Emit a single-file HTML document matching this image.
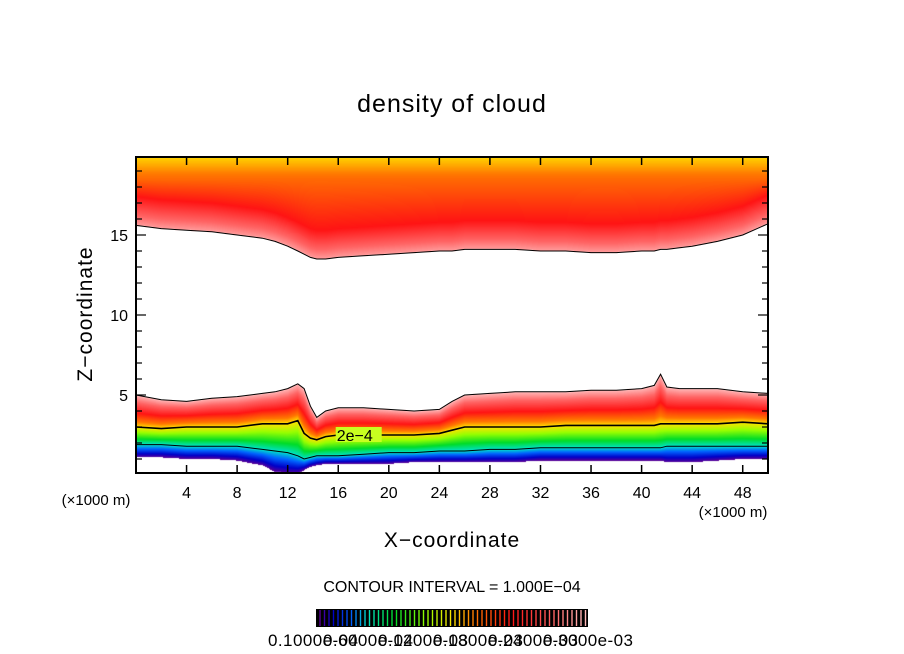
<!DOCTYPE html>
<html><head><meta charset="utf-8"><style>
body{margin:0;background:#fff;width:904px;height:654px;overflow:hidden;position:relative;font-family:"Liberation Sans",sans-serif}
canvas{position:absolute;left:136px;top:157px}
svg{position:absolute;left:0;top:0}
</style></head><body>
<canvas id="cv" width="632" height="316"></canvas>
<svg id="sv" width="904" height="654"></svg>
<script>
// data
const xs   = [0,2,4,6,8,10,11,12,12.8,13.3,13.8,14.3,15,16,18,20,22,24,25,26,28,30,32,34,36,38,40,41,41.5,42,43,44,46,48,50];
const zUp  = [15.6,15.4,15.3,15.2,15.0,14.8,14.6,14.3,14.0,13.8,13.6,13.5,13.5,13.6,13.7,13.8,13.9,14.0,14.0,14.1,14.1,14.1,14.0,14.0,13.9,13.9,14.0,14.0,14.1,14.1,14.2,14.3,14.6,15.0,15.7];
const zTop = [5.0,4.7,4.6,4.8,4.9,5.1,5.2,5.4,5.7,5.4,4.3,3.6,4.0,4.2,4.2,4.1,4.0,4.1,4.6,5.0,5.1,5.2,5.2,5.2,5.3,5.3,5.4,5.6,6.3,5.5,5.4,5.4,5.4,5.2,5.1];
const z2   = [3.0,2.9,3.0,3.0,3.0,3.2,3.2,3.2,3.4,2.6,2.3,2.2,2.4,2.5,2.5,2.5,2.5,2.6,2.8,3.0,3.0,3.0,3.0,3.1,3.1,3.1,3.1,3.1,3.2,3.2,3.2,3.2,3.2,3.3,3.2];
const z1   = [1.9,1.9,1.8,1.8,1.8,1.6,1.5,1.4,1.2,1.0,1.1,1.2,1.2,1.2,1.3,1.4,1.4,1.5,1.5,1.5,1.6,1.6,1.7,1.7,1.7,1.7,1.7,1.7,1.7,1.8,1.8,1.8,1.8,1.8,1.8];
const zBot = [1.1,1.1,1.0,1.0,0.9,0.6,0.2,0.1,0.1,0.3,0.5,0.6,0.7,0.7,0.7,0.7,0.8,0.8,0.8,0.8,0.8,0.8,0.9,0.9,0.9,0.9,0.9,0.9,0.9,0.8,0.8,0.8,0.9,1.0,1.0];
const xTicks = [4,8,12,16,20,24,28,32,36,40,44,48];
const zTicks = [5,10,15];
const cbLabels = ["0.1000e-04","0.6000e-04","0.1200e-03","0.1800e-03","0.2400e-03","0.3000e-03"];

const L=136,R=768,T=157,B=473;
const X=x=>L+(x/50)*(R-L);
const Z=z=>475-z*16;
function interp(arr,x){for(let i=0;i<xs.length-1;i++){if(x<=xs[i+1]){const t=(x-xs[i])/(xs[i+1]-xs[i]);return arr[i]+t*(arr[i+1]-arr[i]);}}return arr[arr.length-1];}
const stops=[[0,[255,185,185]],[0.12,[255,100,100]],[0.28,[255,20,20]],[0.42,[255,120,0]],[0.5,[255,225,0]],[0.6,[150,255,0]],[0.72,[0,220,40]],[0.82,[0,225,200]],[0.88,[0,100,255]],[0.95,[0,0,200]],[1,[90,0,150]]];
function cmap(s){s=Math.max(0,Math.min(1,s));for(let i=0;i<stops.length-1;i++){if(s<=stops[i+1][0]){const t=(s-stops[i][0])/(stops[i+1][0]-stops[i][0]);return stops[i][1].map((c,k)=>Math.round(c+t*(stops[i+1][1][k]-c)));}}return stops[stops.length-1][1];}

const cv=document.getElementById('cv'),ctx=cv.getContext('2d');
const img=ctx.createImageData(632,316);
for(let px=0;px<632;px++){
  const x=(px+0.5)/632*50;
  const a=interp(zUp,x),t=interp(zTop,x),c2=interp(z2,x),c1=interp(z1,x),b=interp(zBot,x);
  for(let py=0;py<316;py++){
    const z=(475-(T+py+0.5))/16;
    let col=null;
    if(z>=a){let s;const d=z-a;if(d<1.8)s=0.04+d/1.8*0.24;else if(z<18.5)s=0.28+(z-a-1.8)/Math.max(0.5,18.5-a-1.8)*0.12;else s=0.40+(z-18.5)/1.5*0.1;col=cmap(s);}
    else if(z<=t&&z>=b){let s;if(z>=c2)s=(t-z)/(t-c2)*0.5;else if(z>=c1)s=0.5+(c2-z)/(c2-c1)*0.32;else s=0.82+(c1-z)/(c1-b)*0.18;col=cmap(s);}
    const i=(py*632+px)*4;
    if(col){img.data[i]=col[0];img.data[i+1]=col[1];img.data[i+2]=col[2];}else{img.data[i]=img.data[i+1]=img.data[i+2]=255;}
    img.data[i+3]=255;
  }
}
ctx.putImageData(img,0,0);

const NS="http://www.w3.org/2000/svg",sv=document.getElementById('sv');
function mk(tag,attrs,parent){const e=document.createElementNS(NS,tag);for(const k in attrs)e.setAttribute(k,attrs[k]);(parent||sv).appendChild(e);return e;}
function line(arr,name,w){const p=mk('polyline',{points:xs.map((x,i)=>X(x)+','+Z(arr[i])).join(' '),fill:'none',stroke:'#000','stroke-width':w});

}
line(zUp,'upper-cloud-contour',1);
line(zTop,'lower-cloud-top-contour',1);
line(z2,'contour-2e-4',1.6);
line(z1,'lower-contour',1);
const lbx=X(15.8),lby=Z(interp(z2,17));
const lb=mk('rect',{x:lbx,y:lby-8,width:46,height:15,fill:'#c8ff20'});


const lt=mk('text',{x:lbx+1,y:lby+6,'font-size':16,fill:'#000'});
lt.textContent='2e\u22124';


// frame
const fr=mk('rect',{x:L,y:T,width:R-L,height:B-T,fill:'none',stroke:'#000','stroke-width':2});


for(const v of xTicks){
  mk('line',{x1:X(v),x2:X(v),y1:B,y2:B-8,stroke:'#000','stroke-width':1.5});
  mk('line',{x1:X(v),x2:X(v),y1:T,y2:T+8,stroke:'#000','stroke-width':1.5});
  const t=mk('text',{x:X(v),y:B+25,'font-size':16,'text-anchor':'middle'});t.textContent=v;
  
  
}
for(let z=1;z<=19;z++){const len=zTicks.includes(z)?10:6;
  mk('line',{x1:L,x2:L+len,y1:Z(z),y2:Z(z),stroke:'#000','stroke-width':1.2});
  mk('line',{x1:R,x2:R-len,y1:Z(z),y2:Z(z),stroke:'#000','stroke-width':1.2});}
for(const v of zTicks){const t=mk('text',{x:L-8,y:Z(v)+6,'font-size':16,'text-anchor':'end'});t.textContent=v;
  
  }
function txt(s,x,y,fs,name,extra){const t=mk('text',Object.assign({x:x,y:y,'font-size':fs,'text-anchor':'middle'},extra||{}));t.textContent=s;
  
  return t;}
txt('density of cloud',452,112,25,'chart-title',{'letter-spacing':'1'});
txt('Z\u2212coordinate',0,0,21,'y-axis-title',{transform:'translate(92,314) rotate(-90)','letter-spacing':'1'});
txt('X\u2212coordinate',452,547,21,'x-axis-title',{'letter-spacing':'1'});
txt('(\u00d71000 m)',96,505,15,'x-unit-left');
txt('(\u00d71000 m)',733,517,15,'x-unit-right');
txt('CONTOUR INTERVAL = 1.000E\u221204',452,592,16,'contour-interval');
// colorbar
const cb=mk('rect',{x:316,y:609,width:272,height:18,fill:'#000'});


for(let i=0;i<60;i++){const c=cmap(1-i/59);mk('line',{x1:320+i*4.5,x2:320+i*4.5,y1:610,y2:626,stroke:'rgb('+c.join(',')+')','stroke-width':1.4});}
cbLabels.forEach((s,i)=>{const t=mk('text',{x:268+i*55,y:646,'font-size':17,textLength:90});t.textContent=s;
  
  });
</script>
</body></html>
